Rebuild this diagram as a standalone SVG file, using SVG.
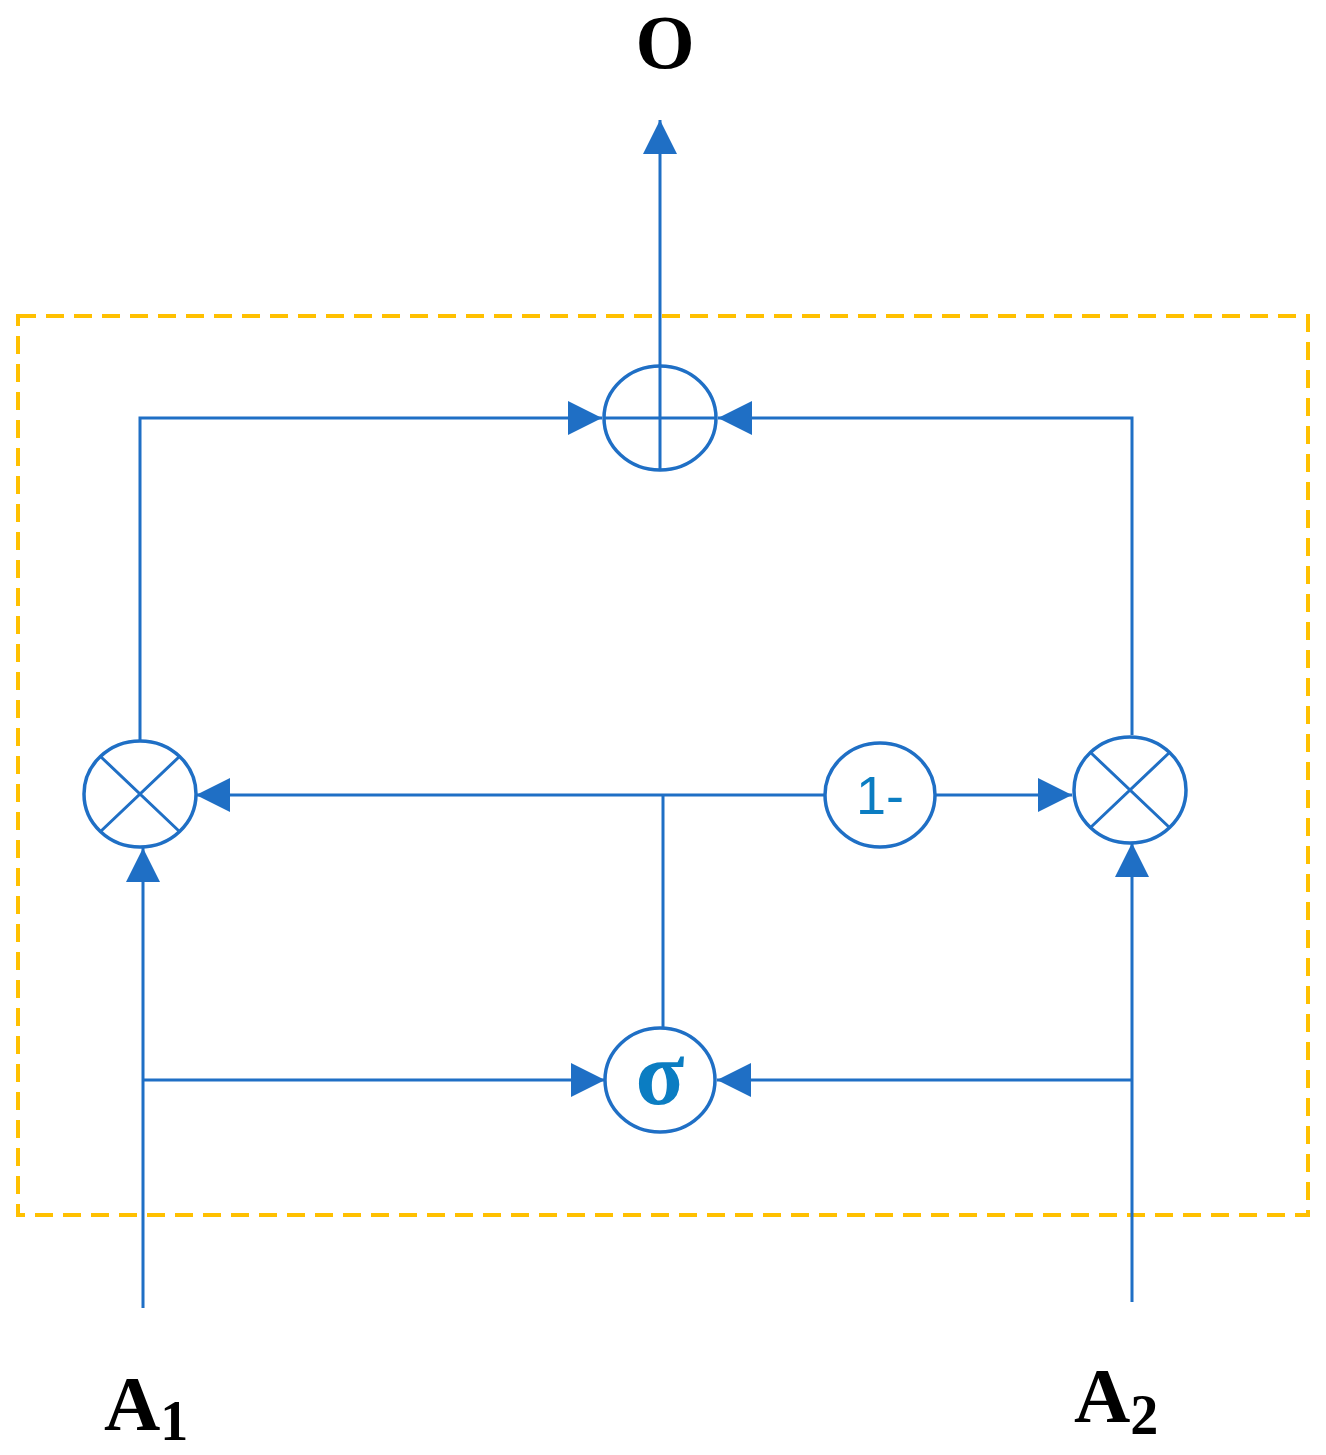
<svg xmlns="http://www.w3.org/2000/svg" width="1326" height="1455" viewBox="0 0 1326 1455">
<style>
.ln{stroke:#1F6FC5;stroke-width:3;fill:none}
.nd{stroke:#1F6FC5;stroke-width:3.5;fill:#fff}
.lb{font-family:"Liberation Serif",serif;font-weight:bold;fill:#000}
.ct{font-family:"Liberation Sans",sans-serif;fill:#0B7DC2;text-anchor:middle}
</style>
<defs>
<marker id="a" viewBox="0 0 10 10" refX="10" refY="5" markerWidth="34" markerHeight="34" markerUnits="userSpaceOnUse" orient="auto"><path d="M0,0 L10,5 L0,10 z" fill="#1F6FC5"/></marker></defs>
<rect x="18" y="316" width="1290" height="899" fill="none" stroke="#FFC000" stroke-width="4" stroke-dasharray="18,10"/>
<g id="connectors">
<path class="ln" d="M660,365 V120" marker-end="url(#a)"/>
<path class="ln" d="M140,740 V418 H602" marker-end="url(#a)"/>
<path class="ln" d="M1132,735 V418 H718" marker-end="url(#a)"/>
<path class="ln" d="M825,795 H196" marker-end="url(#a)"/>
<path class="ln" d="M935,795 H1072" marker-end="url(#a)"/>
<path class="ln" d="M663,795 V1028"/>
<path class="ln" d="M143,1308 V848" marker-end="url(#a)"/>
<path class="ln" d="M143,1080 H605" marker-end="url(#a)"/>
<path class="ln" d="M1132,1302 V843" marker-end="url(#a)"/>
<path class="ln" d="M1132,1080 H717" marker-end="url(#a)"/>
</g>
<g id="plus"><ellipse class="nd" cx="660" cy="418" rx="56" ry="52"/><path class="ln" d="M604,418 H716 M660,366 V470"/></g>
<g id="mulL"><ellipse class="nd" cx="140" cy="794" rx="56" ry="53"/><path class="ln" d="M100,756 L180,832 M180,756 L100,832" stroke-width="2"/></g>
<g id="mulR"><ellipse class="nd" cx="1130" cy="790" rx="56" ry="53"/><path class="ln" d="M1090,752 L1170,828 M1170,752 L1090,828" stroke-width="2"/></g>
<g id="oneminus"><ellipse class="nd" cx="880" cy="795" rx="55" ry="52"/><text class="ct" x="880" y="814" font-size="54">1-</text></g>
<g id="sigma"><ellipse class="nd" cx="660" cy="1080" rx="55" ry="52"/><text class="ct" x="660" y="1104" font-size="90" style="font-family:'Liberation Serif',serif;font-weight:bold">σ</text></g>
<text class="lb" x="665" y="68" font-size="76" text-anchor="middle">O</text>
<text class="lb" x="104" y="1430" font-size="78">A<tspan font-size="56" dy="10">1</tspan></text>
<text class="lb" x="1074" y="1422" font-size="78">A<tspan font-size="56" dy="12">2</tspan></text>
</svg>
